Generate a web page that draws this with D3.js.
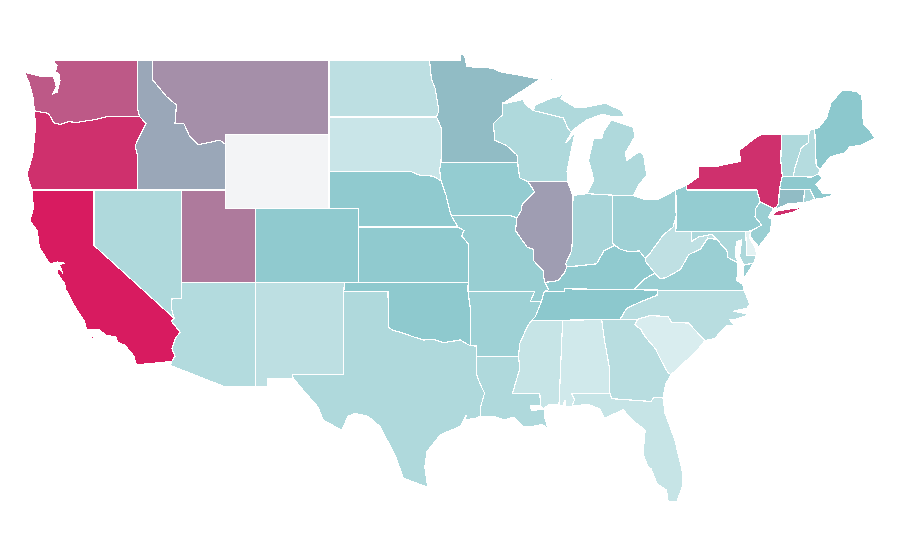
<!DOCTYPE html>
<html>
<head>
<meta charset="utf-8">
<script src="https://d3js.org/d3.v7.min.js"></script>
<style>
  body { margin: 0; background: #fff; }
  path.state { stroke: #fff; stroke-width: 1.2; shape-rendering: crispEdges; }
</style>
</head>
<body>
<svg id="map" width="900" height="560"></svg>
<script>
// state codes and the value of each one
const stateCodes = ["AL","AR","AZ","CA","CO","CT","DE","FL","GA","IA","ID","IL","IN","KS","KY","LA","MA","MD","ME","MI","MN","MO","MS","MT","NC","ND","NE","NH","NJ","NM","NV","NY","OH","OK","OR","PA","RI","SC","SD","TN","TX","UT","VA","VT","WA","WI","WV","WY"];
const stateValues = [14.6,40.6,29.7,100,48,53.5,4.6,20,27,45.8,59.5,62.5,35.4,48,48,32,49,32.8,50,32,53.5,43.7,20,66.5,27,24.5,48,28.6,42.7,24.5,32,94,40,49,94,45.8,35.4,9.9,18,50,32,72.5,42.7,32,82,32,23.4,0];

// colour ramp
const colorStops = [0, 1, 50, 100];
const colorRange = ["#f3f4f6", "#eaf5f6", "#8cc8cd", "#d81b60"];

// outlines as lon/lat rings, each state is a list of rings
const WA = [[[-122.76,49],[-122.5,48.75],[-122.6,48.4],[-122.35,48.25],[-122.3,47.9],[-122.4,47.6],[-122.5,47.3],[-122.8,47.2],[-122.55,47.6],[-122.65,47.9],[-122.75,48.15],[-123.1,48.17],[-123.6,48.15],[-124.7,48.38],[-124.4,47.8],[-124.1,46.95],[-124.05,46.3],[-123.9,46.25],[-123.4,46.2],[-123.1,46.15],[-122.85,45.85],[-122.75,45.65],[-122.3,45.55],[-121.7,45.7],[-121.2,45.65],[-120.6,45.73],[-120,45.8],[-119.3,45.93],[-119,46],[-116.92,46],[-117.04,46.42],[-117.04,49]]];
const OR = [[[-124.05,46.25],[-123.9,46.25],[-123.4,46.2],[-123.1,46.15],[-122.85,45.85],[-122.75,45.65],[-122.3,45.55],[-121.7,45.7],[-121.2,45.65],[-120.6,45.73],[-120,45.8],[-119.3,45.93],[-119,46],[-116.92,46],[-116.47,45.6],[-116.85,45],[-117.2,44.4],[-117.03,43.8],[-117.03,42],[-124.2,42],[-124.55,42.85],[-124.4,43.2],[-124.15,43.9],[-124.05,44.7],[-123.95,45.5]]];
const ID = [[[-117.04,49],[-116.05,49],[-116.05,48],[-115.06,47.05],[-114.4,46.6],[-114.5,45.6],[-113.9,45.6],[-113.5,44.9],[-112.9,44.45],[-111.45,44.7],[-111.05,44.45],[-111.05,42],[-117.03,42],[-117.03,43.8],[-117.2,44.4],[-116.85,45],[-116.47,45.6],[-116.92,46],[-117.04,46.42]]];
const MT = [[[-116.05,49],[-104.05,49],[-104.05,45],[-111.05,45],[-111.05,44.45],[-111.45,44.7],[-112.9,44.45],[-113.5,44.9],[-113.9,45.6],[-114.5,45.6],[-114.4,46.6],[-115.06,47.05],[-116.05,48]]];
const WY = [[[-111.05,45],[-104.05,45],[-104.05,41],[-111.05,41]]];
const CA = [[[-124.2,42],[-120,42],[-120,39],[-114.55,35.05],[-114.75,34.9],[-114.15,34.3],[-114.45,34],[-114.7,33.4],[-114.5,33],[-114.72,32.72],[-117.12,32.53],[-117.28,33],[-117.9,33.6],[-118.4,33.75],[-118.5,34.03],[-119.2,34.15],[-119.6,34.42],[-120.5,34.45],[-120.65,34.9],[-121.3,35.7],[-121.9,36.6],[-122,36.95],[-122.5,37.5],[-122.4,37.75],[-122.1,37.5],[-122.35,37.95],[-122,38.05],[-122.5,38.1],[-123,38],[-123.7,38.9],[-123.85,39.8],[-124.35,40.35],[-124.1,41]],[[-120.2,33.95],[-120,33.95],[-120,34.05],[-120.2,34.05]],[[-118.55,33.45],[-118.4,33.35],[-118.35,33.4]]];
const NV = [[[-120,42],[-114.04,42],[-114.04,36.15],[-114.7,36.1],[-114.75,35.6],[-114.55,35.05],[-120,39]]];
const UT = [[[-114.04,42],[-111.05,42],[-111.05,41],[-109.05,41],[-109.05,37],[-114.04,37]]];
const AZ = [[[-114.04,37],[-109.05,37],[-109.05,31.33],[-111.07,31.33],[-114.8,32.5],[-114.72,32.72],[-114.5,33],[-114.7,33.4],[-114.45,34],[-114.15,34.3],[-114.75,34.9],[-114.55,35.05],[-114.75,35.6],[-114.7,36.1],[-114.04,36.15]]];
const NM = [[[-109.05,37],[-103,37],[-103.05,36.5],[-103.05,32],[-106.55,32],[-106.5,31.8],[-108.25,31.8],[-108.25,31.33],[-109.05,31.33]]];
const CO = [[[-109.05,41],[-102.05,41],[-102.05,37],[-109.05,37]]];
const ND = [[[-104.05,49],[-97.23,49],[-97.1,48],[-96.85,47.5],[-96.6,46.3],[-96.75,45.95],[-104.05,45.95]]];
const SD = [[[-104.05,45.95],[-96.75,45.95],[-96.4,45.3],[-96.45,43.5],[-96.55,43.1],[-96.45,42.5],[-97,42.75],[-97.9,42.8],[-98.5,43],[-104.05,43]]];
const NE = [[[-104.05,43],[-98.5,43],[-97.9,42.8],[-97,42.75],[-96.45,42.5],[-96.1,41.7],[-95.9,41],[-95.75,40.6],[-95.3,40],[-102.05,40],[-102.05,41],[-104.05,41]]];
const KS = [[[-102.05,40],[-95.3,40],[-94.9,39.8],[-95.05,39.5],[-94.61,39.1],[-94.61,37],[-102.05,37]]];
const OK = [[[-103,37],[-94.61,37],[-94.62,36.5],[-94.43,35.4],[-94.48,33.57],[-95.15,33.88],[-96.3,33.73],[-96.9,33.9],[-97.67,33.88],[-98.5,34.1],[-99.2,34.3],[-99.7,34.4],[-100,34.56],[-100.05,36.5],[-103.05,36.5]]];
const TX = [[[-106.55,31.9],[-106.55,32],[-103.05,32],[-103.05,36.5],[-100.05,36.5],[-100,34.56],[-99.7,34.4],[-99.2,34.3],[-98.5,34.1],[-97.67,33.88],[-96.9,33.9],[-96.3,33.73],[-95.15,33.88],[-94.48,33.57],[-94.04,33.55],[-94.04,32],[-93.8,31.5],[-93.5,31],[-93.75,30.3],[-93.78,29.75],[-94.1,29.65],[-94.8,29.55],[-94.75,29.8],[-95.15,29.2],[-96.5,28.75],[-97.4,27.85],[-97.55,27],[-97.35,25.9],[-99,26.4],[-99.57,27.65],[-100.6,29.2],[-101.4,29.75],[-102.3,29.9],[-102.75,29.75],[-103.2,29],[-104.45,29.55],[-104.8,30.25],[-106,31.35]]];
const AR = [[[-94.62,36.5],[-90.1,36.5],[-90.4,35.95],[-89.65,35.95],[-90.05,35.15],[-90.3,34.95],[-90.6,34.6],[-91.1,33.7],[-91.2,33],[-94.04,33],[-94.04,33.55],[-94.48,33.57],[-94.43,35.4]]];
const LA = [[[-94.04,33],[-91.2,33],[-91.1,32.35],[-91.6,31],[-89.75,31],[-89.7,30.35],[-89.95,30.35],[-90.4,30.3],[-90.3,30.05],[-89.9,30.1],[-89.55,30.15],[-89.4,30.05],[-89.45,29.8],[-89.2,29.1],[-89.6,29.3],[-90.25,29.2],[-90.9,29.2],[-91.5,29.7],[-92.2,29.55],[-92.85,29.75],[-93.78,29.75],[-93.75,30.3],[-93.5,31],[-93.8,31.5],[-94.04,32]]];
const MS = [[[-90.3,34.95],[-88.2,34.95],[-88.45,30.35],[-89.1,30.4],[-89.55,30.15],[-89.7,30.35],[-89.75,31],[-91.6,31],[-91.1,32.35],[-91.2,33],[-91.1,33.7],[-90.6,34.6]]];
const AL = [[[-88.2,34.95],[-85.55,34.98],[-85.37,33.9],[-85,32.25],[-85,31],[-87.6,31],[-87.4,30.65],[-87.55,30.3],[-88,30.25],[-88.05,30.65],[-88.15,30.35],[-88.45,30.35]]];
const GA = [[[-85.55,34.98],[-83.1,35],[-83.3,34.7],[-82.9,34.45],[-82.6,34.05],[-81.9,33.4],[-81.4,32.6],[-81.05,32.1],[-80.85,32],[-81.2,31.5],[-81.4,30.75],[-82.05,30.75],[-82.2,30.55],[-84.85,30.7],[-85,31],[-85,32.25],[-85.37,33.9]]];
const FL = [[[-87.6,31],[-85,31],[-84.85,30.7],[-82.2,30.55],[-82.05,30.75],[-81.4,30.75],[-81.25,29.9],[-80.6,28.5],[-80.05,26.65],[-80.05,26],[-80.45,25.15],[-81.05,25.15],[-81.15,25.75],[-81.8,26.1],[-82.2,26.9],[-82.4,27],[-82.75,27.7],[-82.6,29],[-83.4,29.5],[-84.1,30.1],[-85.2,29.7],[-85.4,29.7],[-85.7,30.15],[-86.5,30.4],[-87.55,30.3],[-87.4,30.65]]];
const SC = [[[-83.3,34.7],[-83.1,35],[-82.3,35.2],[-81.05,35.15],[-80.8,34.82],[-79.67,34.8],[-78.55,33.85],[-79.2,33.2],[-79.9,32.7],[-80.85,32],[-81.05,32.1],[-81.4,32.6],[-81.9,33.4],[-82.6,34.05],[-82.9,34.45]]];
const NC = [[[-84.3,35],[-83.1,35],[-82.3,35.2],[-81.05,35.15],[-80.8,34.82],[-79.67,34.8],[-78.55,33.85],[-77.9,33.95],[-77.1,34.65],[-76.5,34.65],[-76.9,35],[-76.45,35],[-75.55,35.25],[-76.6,35.45],[-75.7,35.6],[-75.5,35.8],[-75.87,36.55],[-81.75,36.58],[-81.8,36.3],[-82.9,35.95],[-83.85,35.6]]];
const TN = [[[-90.3,34.95],[-90.05,35.15],[-89.65,35.95],[-89.45,36.5],[-88.05,36.5],[-88.05,36.65],[-83.4,36.6],[-81.75,36.58],[-81.8,36.3],[-82.9,35.95],[-83.85,35.6],[-84.3,35],[-85.55,34.98],[-88.2,34.95]]];
const KY = [[[-89.45,36.5],[-89.15,36.6],[-89.4,37],[-88.85,37.05],[-88.5,37.1],[-88.1,37.5],[-87.9,37.85],[-87,37.9],[-86.5,37.95],[-85.9,38],[-85.4,38.7],[-84.65,39],[-84.3,38.8],[-83.7,38.65],[-83,38.7],[-82.6,38.3],[-82.6,38.15],[-81.95,37.5],[-82.7,37.15],[-83.4,36.6],[-88.05,36.65],[-88.05,36.5]]];
const IL = [[[-90.55,42.45],[-87.85,42.45],[-87.5,41.65],[-87.53,39.3],[-87.6,38.7],[-88,38],[-87.9,37.85],[-88.1,37.5],[-88.5,37.1],[-88.85,37.05],[-89.4,37],[-89.5,37.3],[-89.5,37.6],[-90.2,38.2],[-90.2,38.8],[-90.6,38.9],[-91.4,39.8],[-91.3,40.5],[-91,40.9],[-90.95,41.2],[-90.1,41.9]]];
const IN = [[[-87.5,41.65],[-87.2,41.75],[-86.55,41.8],[-84.8,41.72],[-84.8,39.1],[-84.65,39],[-85.4,38.7],[-85.9,38],[-86.5,37.95],[-87,37.9],[-87.9,37.85],[-88,38],[-87.6,38.7],[-87.53,39.3]]];
const OH = [[[-84.8,41.72],[-83.4,41.7],[-82.7,41.5],[-81.7,41.5],[-80.52,42],[-80.5,40.6],[-80.7,40],[-81.4,39.55],[-81.7,39.2],[-82.25,38.6],[-82.6,38.3],[-83,38.7],[-83.7,38.65],[-84.3,38.8],[-84.65,39],[-84.8,39.1]]];
const MI = [[[-86.55,41.8],[-84.8,41.72],[-83.4,41.7],[-83.1,42.2],[-82.5,42.8],[-82.7,43.9],[-83,44.07],[-83.85,43.6],[-83.95,44],[-83.3,44.9],[-83.4,45.4],[-84.9,45.8],[-85.4,45.2],[-85.55,44.8],[-86.1,44.8],[-86.45,43.6],[-86.2,42.9],[-86.1,42.5]],
  [[-90.2,46.3],[-90.05,46.6],[-88.9,47],[-88.5,47.05],[-87.85,47.4],[-88.35,46.95],[-87.3,46.45],[-86.5,46.5],[-85.3,46.7],[-84.2,46.3],[-84,45.95],[-84.7,45.95],[-85.5,46.1],[-86.55,45.8],[-87.5,45.25],[-87.6,45.1],[-87.85,45.35],[-88.15,45.9],[-88.9,46.05]],
  [[-89.2,47.9],[-88.8,48.1],[-88.9,47.95]]];
const WI = [[[-92.3,46.7],[-92,46.7],[-90.9,46.9],[-90.75,46.65],[-90.2,46.3],[-88.9,46.05],[-88.15,45.9],[-87.85,45.35],[-87.6,45.1],[-88,44.55],[-87.35,45.1],[-87.55,44.4],[-87.9,43],[-87.85,42.45],[-90.55,42.45],[-91.1,42.65],[-91.2,43.1],[-91.3,43.9],[-92,44.4],[-92.8,44.7],[-92.9,45.6],[-92.3,46.06]]];
const MN = [[[-97.23,49],[-95.15,49],[-95.15,49.35],[-94.85,49.3],[-94.7,48.68],[-93,48.6],[-92.45,48.4],[-91,48.2],[-89.75,48],[-90.5,47.6],[-92.2,46.72],[-92.3,46.7],[-92.3,46.06],[-92.9,45.6],[-92.8,44.7],[-92,44.4],[-91.3,43.9],[-91.2,43.5],[-96.45,43.5],[-96.4,45.3],[-96.75,45.95],[-96.6,46.3],[-96.85,47.5],[-97.1,48]]];
const IA = [[[-96.45,43.5],[-91.2,43.5],[-91.2,43.1],[-91.1,42.65],[-90.55,42.45],[-90.1,41.9],[-90.95,41.2],[-91,40.9],[-91.3,40.5],[-91.7,40.6],[-95.75,40.6],[-95.9,41],[-96.1,41.7],[-96.45,42.5],[-96.55,43.1]]];
const MO = [[[-95.75,40.6],[-91.7,40.6],[-91.3,40.5],[-91.4,39.8],[-90.6,38.9],[-90.2,38.8],[-90.2,38.2],[-89.5,37.6],[-89.5,37.3],[-89.4,37],[-89.15,36.6],[-89.45,36.5],[-89.65,35.95],[-90.4,35.95],[-90.1,36.5],[-94.62,36.5],[-94.61,37],[-94.61,39.1],[-95.05,39.5],[-94.9,39.8],[-95.3,40]]];
const PA = [[[-80.52,42],[-79.8,42.25],[-79.76,42],[-75.03,42],[-74.8,41.36],[-75.1,41],[-75.15,40.55],[-74.7,40.1],[-75.4,39.8],[-75.7,39.74],[-80.52,39.74],[-80.5,40.6]]];
const NY = [[[-79.8,42.25],[-79,42.7],[-79,43.25],[-77.65,43.3],[-76.15,43.55],[-76.2,44.15],[-75,44.9],[-74.7,45],[-73.35,45],[-73.4,43.6],[-73.3,42.75],[-73.5,42.05],[-73.55,41.25],[-73.75,41.05],[-73.9,41],[-74.8,41.36],[-75.03,42],[-79.76,42]],[[-74.05,40.6],[-73.7,40.85],[-72.6,41],[-71.95,41.05],[-72.6,40.8],[-73.6,40.6]]];
const VT = [[[-73.35,45],[-71.5,45],[-71.55,44.55],[-72,44.3],[-72.45,43.2],[-72.55,42.73],[-73.3,42.75],[-73.4,43.6]]];
const NH = [[[-71.5,45],[-71.4,45.25],[-71.1,45.3],[-71,43.3],[-70.75,43.1],[-70.85,42.88],[-71.3,42.7],[-72.55,42.73],[-72.45,43.2],[-72,44.3],[-71.55,44.55]]];
const ME = [[[-71.1,45.3],[-70.8,45.4],[-70.3,45.9],[-70,46.7],[-69.25,47.4],[-68.3,47.35],[-67.9,47.1],[-67.8,45.6],[-67.45,45.3],[-67,44.8],[-68,44.4],[-68.7,44.35],[-69.1,44],[-70.05,43.8],[-70.75,43.1],[-71,43.3]]];
const MA = [[[-73.5,42.05],[-73.3,42.75],[-72.55,42.73],[-71.3,42.7],[-70.85,42.88],[-70.6,42.65],[-71,42.3],[-70.55,41.8],[-70.05,41.8],[-70.1,42.05],[-69.95,41.7],[-70.6,41.55],[-71.1,41.5],[-71.4,42.02],[-71.8,42.02]]];
const RI = [[[-71.8,42.02],[-71.4,42.02],[-71.1,41.5],[-71.5,41.37],[-71.85,41.32]]];
const CT = [[[-73.5,42.05],[-71.8,42.02],[-71.85,41.32],[-72.9,41.25],[-73.65,41],[-73.75,41.05],[-73.55,41.25]]];
const NJ = [[[-74.8,41.36],[-73.9,41],[-74.25,40.5],[-74,40.45],[-74.1,39.75],[-74.9,38.93],[-75.5,39.5],[-75.4,39.8],[-74.7,40.1],[-75.15,40.55],[-75.1,41]]];
const DE = [[[-75.79,39.74],[-75.4,39.8],[-75.55,39.45],[-75.1,38.8],[-75.05,38.45],[-75.7,38.46]]];
const MD = [[[-79.48,39.74],[-75.79,39.74],[-75.7,38.46],[-75.05,38.45],[-75.25,38.03],[-75.9,37.95],[-76.2,38.4],[-76.05,39.3],[-76.4,39.2],[-76.5,38.5],[-76.3,38.05],[-77,38.35],[-77.05,38.7],[-77.5,39.1],[-77.72,39.32],[-78.1,39.6],[-79,39.45],[-79.48,39.2]]];
const WV = [[[-80.5,40.6],[-80.52,39.74],[-79.48,39.74],[-79.48,39.2],[-79,39.45],[-78.1,39.6],[-77.72,39.32],[-78.35,39.4],[-78.85,38.8],[-79.65,38.5],[-80.2,37.7],[-81.2,37.25],[-81.6,37.2],[-81.95,37.5],[-82.6,38.15],[-82.6,38.3],[-82.25,38.6],[-81.7,39.2],[-81.4,39.55],[-80.7,40]]];
const VA = [[[-75.87,36.55],[-81.75,36.58],[-83.4,36.6],[-82.7,37.15],[-81.95,37.5],[-81.6,37.2],[-81.2,37.25],[-80.2,37.7],[-79.65,38.5],[-78.85,38.8],[-78.35,39.4],[-77.72,39.32],[-77.5,39.1],[-77.05,38.7],[-77,38.35],[-76.3,38.05],[-76.3,37.6],[-76.4,37.1],[-76,36.9]],[[-75.9,37.95],[-75.25,38.03],[-75.95,37.15]]];

const stateRings = {AL,AR,AZ,CA,CO,CT,DE,FL,GA,IA,ID,IL,IN,KS,KY,LA,MA,MD,ME,MI,MN,MO,MS,MT,NC,ND,NE,NH,NJ,NM,NV,NY,OH,OK,OR,PA,RI,SC,SD,TN,TX,UT,VA,VT,WA,WI,WV,WY};

// the map is plain lon/lat on two linear scales
const x = d3.scaleLinear().domain([-125, -66]).range([20.2, 889.9]);
const y = d3.scaleLinear().domain([49, 25]).range([60.7, 504]);
const color = d3.scaleLinear().domain(colorStops).range(colorRange);

const ringLine = d3.line()
  .x(d => x(d[0]))
  .y(d => y(d[1]))
  .curve(d3.curveLinearClosed);

const svg = d3.select("#map");

// Wyoming is last in the list so it ends up on top
svg.selectAll("path.state")
  .data(stateCodes)
  .enter()
  .append("path")
  .attr("class", "state")
  .attr("d", code => stateRings[code].map(r => ringLine(r)).join(""))
  .attr("fill", (code, i) => color(stateValues[i]));
</script>
</body>
</html>
